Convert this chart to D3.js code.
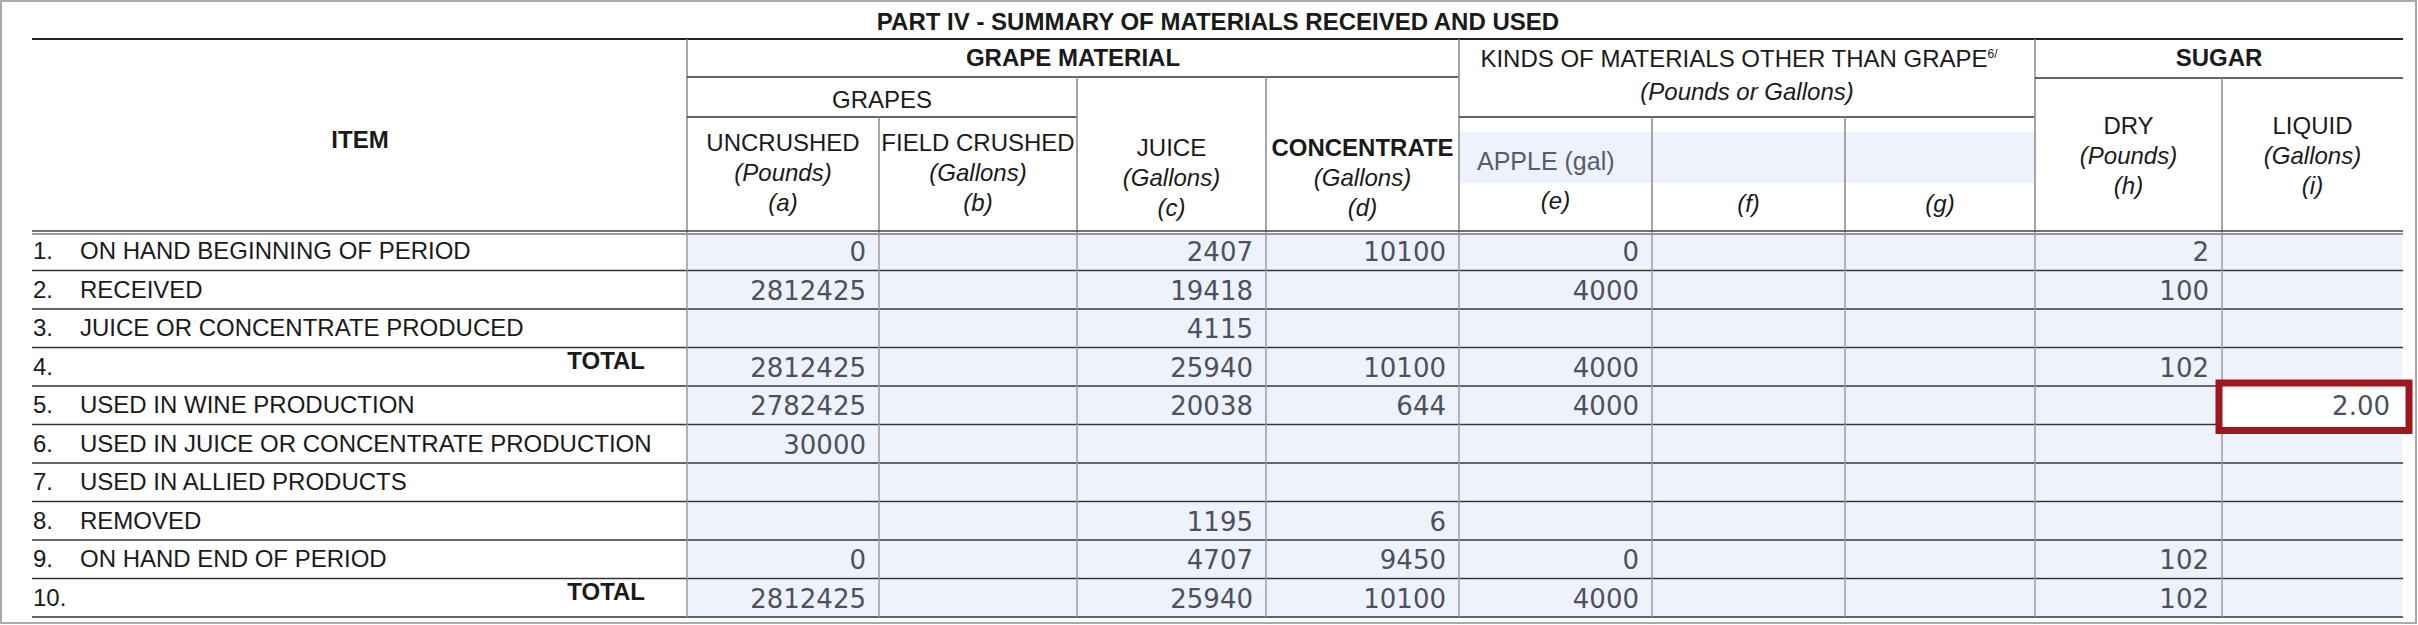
<!DOCTYPE html>
<html><head><meta charset="utf-8">
<script src="https://cdn.jsdelivr.net/npm/d3@7"></script>
<style>body{margin:0;background:#fff}svg{display:block}</style>
</head><body><svg width="2418" height="625"></svg>
<script>
// table content
const items = ["ON HAND BEGINNING OF PERIOD", "RECEIVED", "JUICE OR CONCENTRATE PRODUCED", "TOTAL",
  "USED IN WINE PRODUCTION", "USED IN JUICE OR CONCENTRATE PRODUCTION", "USED IN ALLIED PRODUCTS",
  "REMOVED", "ON HAND END OF PERIOD", "TOTAL"];
const columns = ["a", "b", "c", "d", "e", "f", "g", "h", "i"];
const colA = [0, 2812425, null, 2812425, 2782425, 30000, null, null, 0, 2812425];
const colB = [null, null, null, null, null, null, null, null, null, null];
const colC = [2407, 19418, 4115, 25940, 20038, null, null, 1195, 4707, 25940];
const colD = [10100, null, null, 10100, 644, null, null, 6, 9450, 10100];
const colE = [0, 4000, null, 4000, 4000, null, null, null, 0, 4000];
const colF = [null, null, null, null, null, null, null, null, null, null];
const colG = [null, null, null, null, null, null, null, null, null, null];
const colH = [2, 100, null, 102, null, null, null, null, 102, 102];
const colI = [null, null, null, null, "2.00", null, null, null, null, null];
const highlight = {row: 4, col: "i"};

const values = [colA, colB, colC, colD, colE, colF, colG, colH, colI];
const svg = d3.select("svg");
const FONT = "'Liberation Sans', Arial, sans-serif";
const NUMFONT = "'DejaVu Sans', Verdana, sans-serif";

// column edges
const edges = [687, 879, 1077, 1266, 1459, 1652, 1845, 2035, 2222, 2403];
const x0 = d3.scaleOrdinal().domain(columns).range(edges.slice(0, 9));
const x1 = d3.scaleOrdinal().domain(columns).range(edges.slice(1));
const y = d3.scaleBand().domain(d3.range(items.length)).range([232, 617]);

// outer frame
svg.append("rect").attr("x", 1).attr("y", 1).attr("width", 2415).attr("height", 622)
  .attr("fill", "none").attr("stroke", "#aaa").attr("stroke-width", 2);

// shaded cells
const cells = [];
values.forEach((col, ci) => col.forEach((v, ri) => cells.push({col: columns[ci], row: ri, v})));
svg.append("g").selectAll("rect").data(cells).join("rect")
  .attr("x", d => x0(d.col) + 1).attr("y", d => y(d.row) + 1)
  .attr("width", d => x1(d.col) - x0(d.col) - 2).attr("height", y.bandwidth() - 2)
  .attr("fill", "#eef2fc");
// apple (gal) input band
svg.append("rect").attr("x", x0("e")).attr("y", 132).attr("width", x1("g") - x0("e")).attr("height", 51).attr("fill", "#eef2fc");

const line = (xa, ya, xb, yb, c = "#333", w = 1.5) =>
  svg.append("line").attr("x1", xa).attr("y1", ya).attr("x2", xb).attr("y2", yb).attr("stroke", c).attr("stroke-width", w);

// header lines
line(32, 39, 2403, 39, "#222", 2);
line(687, 39, 687, 232, "#888");
line(687, 77, x1("d"), 77);
line(687, 117, x1("b"), 117);
line(x0("b"), 117, x0("b"), 232, "#888");
line(x0("c"), 77, x0("c"), 232, "#888");
line(x0("d"), 77, x0("d"), 232, "#888");
line(x0("e"), 39, x0("e"), 232, "#888");
line(x0("e"), 117, x1("g"), 117);
line(x0("f"), 117, x0("f"), 232, "#888");
line(x0("g"), 117, x0("g"), 232, "#888");
line(x0("h"), 39, x0("h"), 232, "#888");
line(x0("h"), 78, 2403, 78);
line(x0("i"), 78, x0("i"), 232, "#888");
line(32, 231, 2403, 231, "#444", 1.5);
line(32, 234, 2403, 234, "#777", 1.5);

// body grid
svg.append("g").selectAll("line").data(d3.range(1, items.length + 1)).join("line")
  .attr("x1", 32).attr("x2", 2403).attr("y1", d => y(d - 1) + y.bandwidth()).attr("y2", d => y(d - 1) + y.bandwidth())
  .attr("stroke", "#333").attr("stroke-width", 1.5);
svg.append("g").selectAll("line").data(edges.slice(0, 9)).join("line")
  .attr("x1", d => d).attr("x2", d => d).attr("y1", 232).attr("y2", 617)
  .attr("stroke", "#999").attr("stroke-width", 1.5);

const text = (t, xx, yy, o = {}) => svg.append("text").attr("x", xx).attr("y", yy).text(t)
  .attr("font-family", o.font || FONT).attr("font-size", o.size || 24)
  .attr("font-weight", o.bold ? "bold" : null).attr("font-style", o.italic ? "italic" : null)
  .attr("text-anchor", o.anchor || "middle").attr("fill", o.fill || "#1a1a1a");

// titles
text("PART IV - SUMMARY OF MATERIALS RECEIVED AND USED", 1218, 30, {bold: true});
text("ITEM", 360, 148, {bold: true});
text("GRAPE MATERIAL", (687 + x1("d")) / 2, 66, {bold: true});
text("GRAPES", (687 + x1("b")) / 2, 108);
const cm = c => (x0(c) + x1(c)) / 2;
text("UNCRUSHED", cm("a"), 151); text("(Pounds)", cm("a"), 181, {italic: true}); text("(a)", cm("a"), 211, {italic: true});
text("FIELD CRUSHED", cm("b"), 151); text("(Gallons)", cm("b"), 181, {italic: true}); text("(b)", cm("b"), 211, {italic: true});
text("JUICE", cm("c"), 156); text("(Gallons)", cm("c"), 186, {italic: true}); text("(c)", cm("c"), 216, {italic: true});
text("CONCENTRATE", cm("d"), 156, {bold: true}); text("(Gallons)", cm("d"), 186, {italic: true}); text("(d)", cm("d"), 216, {italic: true});
const kt = text("KINDS OF MATERIALS OTHER THAN GRAPE", (x0("e") + x1("g")) / 2 - 8, 67);
kt.append("tspan").text("6/").attr("font-size", 12).attr("dy", -9);
text("(Pounds or Gallons)", (x0("e") + x1("g")) / 2, 100, {italic: true});
text("APPLE (gal)", x0("e") + 18, 170, {anchor: "start", fill: "#555c70", size: 25});
text("(e)", cm("e"), 209, {italic: true}); text("(f)", cm("f"), 212, {italic: true}); text("(g)", cm("g"), 212, {italic: true});
text("SUGAR", (x0("h") + 2403) / 2, 66, {bold: true});
text("DRY", cm("h"), 134); text("(Pounds)", cm("h"), 164, {italic: true}); text("(h)", cm("h"), 194, {italic: true});
text("LIQUID", cm("i"), 134); text("(Gallons)", cm("i"), 164, {italic: true}); text("(i)", cm("i"), 194, {italic: true});

// row labels
const rows = svg.append("g").selectAll("g").data(items).join("g")
  .attr("transform", (d, i) => `translate(0,${y(i) + y.bandwidth() / 2 + 8})`);
rows.append("text").attr("x", 33).text((d, i) => (i + 1) + ".")
  .attr("font-family", FONT).attr("font-size", 24).attr("fill", "#1a1a1a");
rows.append("text").attr("x", d => d === "TOTAL" ? 645 : 80).attr("text-anchor", d => d === "TOTAL" ? "end" : "start")
  .attr("font-weight", d => d === "TOTAL" ? "bold" : null).attr("dy", d => d === "TOTAL" ? -6 : (0))
  .text(d => d).attr("font-family", FONT).attr("font-size", 24).attr("fill", "#1a1a1a");

// highlight box
svg.append("rect").attr("x", x0(highlight.col) - 3).attr("y", y(highlight.row) - 3)
  .attr("width", 2412 - x0(highlight.col)).attr("height", y.bandwidth() + 9)
  .attr("fill", "#fff").attr("stroke", "#a0161e").attr("stroke-width", 7);

// numbers
svg.append("g").selectAll("text").data(cells.filter(d => d.v !== null)).join("text")
  .attr("x", d => x1(d.col) - 13).attr("y", d => y(d.row) + y.bandwidth() / 2 + 10)
  .attr("text-anchor", "end").attr("font-family", NUMFONT).attr("font-size", 26)
  .attr("fill", "#4d5060").text(d => d.v);
</script></body></html>
